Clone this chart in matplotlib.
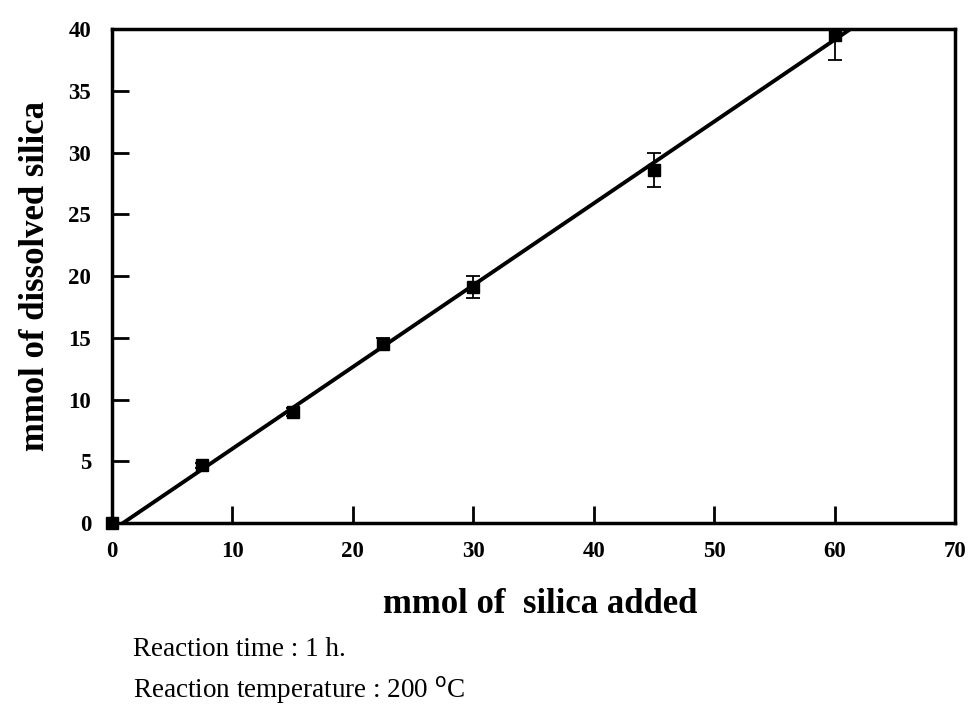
import matplotlib.pyplot as plt
import numpy as np

# silica dissolution data
silica_added = [0, 7.5, 15, 22.5, 30, 45, 60]
silica_dissolved = [0, 4.7, 9.0, 14.5, 19.1, 28.6, 39.5]
err = [0, 0.2, 0.3, 0.5, 0.9, 1.4, 2.0]

# linear fit line
fit_slope = 0.662
fit_intercept = -0.6
fit_x = [0.9, 61.3]

x_ticks = [0, 10, 20, 30, 40, 50, 60, 70]
y_ticks = [0, 5, 10, 15, 20, 25, 30, 35, 40]

plt.rcParams['font.family'] = ['Liberation Serif', 'DejaVu Serif']

fig = plt.figure(figsize=(9.71, 7.05), dpi=100)
ax = fig.add_axes([0.1153, 0.258, 0.8682, 0.7009])

fx = np.array(fit_x)
ax.plot(fx, fit_slope * fx + fit_intercept, color='black', lw=2.8, zorder=2)
# error bars clipped at the frame, markers left unclipped
ax.errorbar(silica_added, silica_dissolved, yerr=err, fmt='none', ecolor='black',
            elinewidth=1.3, capsize=5, capthick=1.3, zorder=3)
ax.plot(silica_added, silica_dissolved, 's', color='black', ms=9, zorder=4,
        clip_on=False)

ax.set_xlim(0, 70)
ax.set_ylim(0, 40)
ax.set_xticks(x_ticks)
ax.set_yticks(y_ticks)
ax.tick_params(direction='in', length=12, width=2, labelsize=16.5,
               top=False, right=False)
ax.tick_params(axis='x', pad=13)
ax.tick_params(axis='y', pad=15)
for lab in ax.get_xticklabels() + ax.get_yticklabels():
    lab.set_fontweight('bold')
for s in ax.spines.values():
    s.set_linewidth(2.5)

ax.set_ylabel('mmol of dissolved silica', fontsize=25, fontweight='bold', labelpad=12)
fig.text(0.556, 0.142, 'mmol of  silica added', fontsize=25, fontweight='bold',
         ha='center', va='center')
fig.text(0.137, 0.079, 'Reaction time : 1 h.', fontsize=19.5, ha='left', va='center')
fig.text(0.137, 0.021, 'Reaction temperature : 200 $^{\\mathrm{o}}$C', fontsize=19.5,
         ha='left', va='center')

fig.savefig('out.png', dpi=100)
